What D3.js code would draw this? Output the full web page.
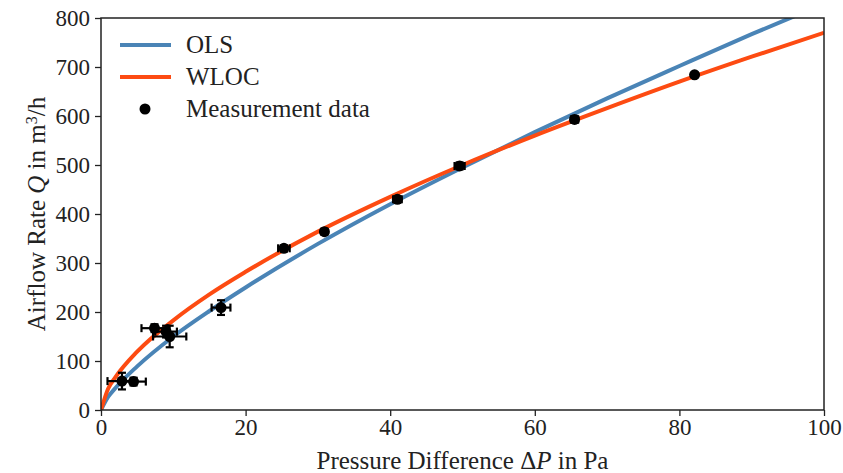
<!DOCTYPE html>
<html>
<head>
<meta charset="utf-8">
<script src="https://cdn.jsdelivr.net/npm/d3@7"></script>
<style>
  body { margin: 0; background: #fff; }
  svg { display: block; font-family: "Liberation Serif", "DejaVu Serif", serif; }
</style>
</head>
<body>
<svg id="chart" width="843" height="473"></svg>
<script>
// fitted curves at fixed pressure steps
var dp = [0, 1, 2, 5, 10, 15, 20, 30, 40, 50, 60, 70, 80, 90, 100];
var olsQ = [0, 27, 45, 89, 150, 202, 250, 339, 420, 495, 567, 636, 702, 767, 829];
var wlocQ = [0, 44, 67, 119, 183, 236, 282, 364, 435, 500, 560, 616, 670, 721, 770];

// measurement points with error half-widths
var measP = [2.9, 4.5, 7.4, 9.0, 9.5, 16.6, 25.3, 30.9, 41.0, 49.6, 65.5, 82.1];
var measQ = [59, 58, 167, 160, 150, 209, 330, 364, 430, 498, 593, 684];
var errP = [2.0, 1.7, 1.8, 1.5, 2.3, 1.3, 0.8, 0.4, 0.6, 0.7, 0.5, 0.3];
var errQ = [17, 8, 8, 12, 22, 15, 6, 5, 6, 7, 7, 4];

var xTicks = [0, 20, 40, 60, 80, 100];
var yTicks = [0, 100, 200, 300, 400, 500, 600, 700, 800];

var margin = {top: 18, right: 19, bottom: 63, left: 101};
var width = 843 - margin.left - margin.right;
var height = 473 - margin.top - margin.bottom;

var svg = d3.select("#chart");
var g = svg.append("g")
    .attr("transform", "translate(" + margin.left + "," + margin.top + ")");

var x = d3.scaleLinear().domain([0, 100]).range([0, width]);
var y = d3.scaleLinear().domain([0, 800]).range([height, 0]);

g.append("defs").append("clipPath").attr("id", "clip")
    .append("rect").attr("width", width).attr("height", height);

// lines
var olsPts = dp.map(function(d, i) { return [d, olsQ[i]]; });
var wlocPts = dp.map(function(d, i) { return [d, wlocQ[i]]; });
var line = d3.line()
    .x(function(d) { return x(d[0]); })
    .y(function(d) { return y(d[1]); })
    .curve(d3.curveMonotoneX);

var plot = g.append("g").attr("clip-path", "url(#clip)");
plot.append("path")
    .datum(olsPts)
    .attr("d", line)
    .attr("fill", "none")
    .attr("stroke", "#4a84b6")
    .attr("stroke-width", 4);
plot.append("path")
    .datum(wlocPts)
    .attr("d", line)
    .attr("fill", "none")
    .attr("stroke", "#fd4b12")
    .attr("stroke-width", 4);

// error bars
var meas = measP.map(function(d, i) { return {p: d, q: measQ[i], ep: errP[i], eq: errQ[i]}; });
var cap = 4;
var eb = plot.append("g").attr("stroke", "#000").attr("stroke-width", 2.2);
meas.forEach(function(d) {
  eb.append("line")
      .attr("x1", x(d.p - d.ep)).attr("x2", x(d.p + d.ep))
      .attr("y1", y(d.q)).attr("y2", y(d.q));
  eb.append("line")
      .attr("x1", x(d.p)).attr("x2", x(d.p))
      .attr("y1", y(d.q - d.eq)).attr("y2", y(d.q + d.eq));
  [d.p - d.ep, d.p + d.ep].forEach(function(v) {
    eb.append("line")
        .attr("x1", x(v)).attr("x2", x(v))
        .attr("y1", y(d.q) - cap).attr("y2", y(d.q) + cap);
  });
  [d.q - d.eq, d.q + d.eq].forEach(function(v) {
    eb.append("line")
        .attr("x1", x(d.p) - cap).attr("x2", x(d.p) + cap)
        .attr("y1", y(v)).attr("y2", y(v));
  });
});
plot.selectAll(".dot")
    .data(meas)
    .enter().append("circle")
    .attr("class", "dot")
    .attr("cx", function(d) { return x(d.p); })
    .attr("cy", function(d) { return y(d.q); })
    .attr("r", 5.5)
    .attr("fill", "#000");

// axes
var xAxis = g.append("g")
    .attr("transform", "translate(0," + height + ")")
    .call(d3.axisBottom(x).tickValues(xTicks).tickSize(6).tickPadding(3));
var yAxis = g.append("g")
    .call(d3.axisLeft(y).tickValues(yTicks).tickSize(6).tickPadding(5));
[xAxis, yAxis].forEach(function(a) {
  a.attr("font-size", 23).attr("font-family", "Liberation Serif, serif");
  a.select(".domain").remove();
  a.selectAll("line").attr("stroke", "#222").attr("stroke-width", 1.3);
  a.selectAll("text").attr("fill", "#222");
});

g.append("rect")
    .attr("width", width).attr("height", height)
    .attr("fill", "none").attr("stroke", "#222").attr("stroke-width", 1.5);

// axis titles
svg.append("text")
    .attr("x", margin.left + width / 2)
    .attr("y", 469)
    .attr("text-anchor", "middle")
    .attr("font-size", 25)
    .attr("fill", "#222")
    .html("Pressure Difference Δ<tspan font-style='italic'>P</tspan> in Pa");
svg.append("text")
    .attr("transform", "translate(45," + (margin.top + height / 2) + ") rotate(-90)")
    .attr("text-anchor", "middle")
    .attr("font-size", 25)
    .attr("fill", "#222")
    .html("Airflow Rate <tspan font-style='italic'>Q</tspan> in m<tspan baseline-shift='super' font-size='16'>3</tspan>/h");

// legend
var legend = g.append("g").attr("transform", "translate(19,27)");
var items = [
  {label: "OLS", color: "#4a84b6", type: "line"},
  {label: "WLOC", color: "#fd4b12", type: "line"},
  {label: "Measurement data", color: "#000", type: "dot"}
];
items.forEach(function(it, i) {
  var row = legend.append("g").attr("transform", "translate(0," + (i * 32) + ")");
  if (it.type === "line") {
    row.append("line").attr("x1", 0).attr("x2", 51).attr("y1", 0).attr("y2", 0)
        .attr("stroke", it.color).attr("stroke-width", 4);
  } else {
    row.append("circle").attr("cx", 25).attr("cy", 0).attr("r", 5.5).attr("fill", it.color);
  }
  row.append("text").attr("x", 66).attr("y", 8)
      .attr("font-size", 25).attr("fill", "#222").text(it.label);
});
</script>
</body>
</html>
